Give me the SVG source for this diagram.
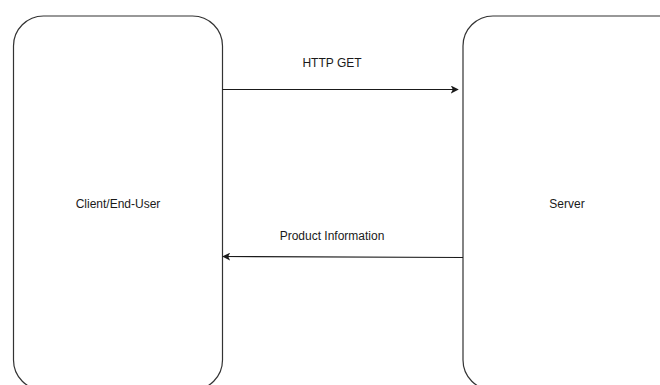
<svg xmlns="http://www.w3.org/2000/svg" width="660" height="385" viewBox="0 0 660 385">
  <style>
    .box { fill: #ffffff; stroke: #333333; stroke-width: 1.2; }
    .edge { fill: none; stroke: #1a1a1a; stroke-width: 1.2; }
    .lbl { font-family: "Liberation Sans", Arial, sans-serif; font-size: 12px; fill: #1a1a1a; text-anchor: middle; }
  </style>
  <defs>
    <marker id="arrow" viewBox="0 0 10 10" refX="9" refY="5" markerWidth="8" markerHeight="8" markerUnits="userSpaceOnUse" orient="auto">
      <path d="M0,0 L10,5 L0,10 L2.5,5 Z" fill="#1a1a1a"/>
    </marker>
  </defs>
  <rect width="660" height="385" fill="#ffffff"/>
  <g id="client">
    <rect class="box" x="13.5" y="16" width="209" height="374" rx="30" ry="30"/>
    <text class="lbl" x="118" y="208">Client/End-User</text>
  </g>
  <g id="server">
    <rect class="box" x="463" y="16" width="230" height="374" rx="30" ry="30"/>
    <text class="lbl" x="567" y="208">Server</text>
  </g>
  <g id="connectors">
    <line class="edge" x1="222.5" y1="89.5" x2="458" y2="89.5" marker-end="url(#arrow)"/>
    <text class="lbl" x="332" y="67">HTTP GET</text>
    <line class="edge" x1="463" y1="257.5" x2="223" y2="256.5" marker-end="url(#arrow)"/>
    <text class="lbl" x="332" y="240">Product Information</text>
  </g>
</svg>
